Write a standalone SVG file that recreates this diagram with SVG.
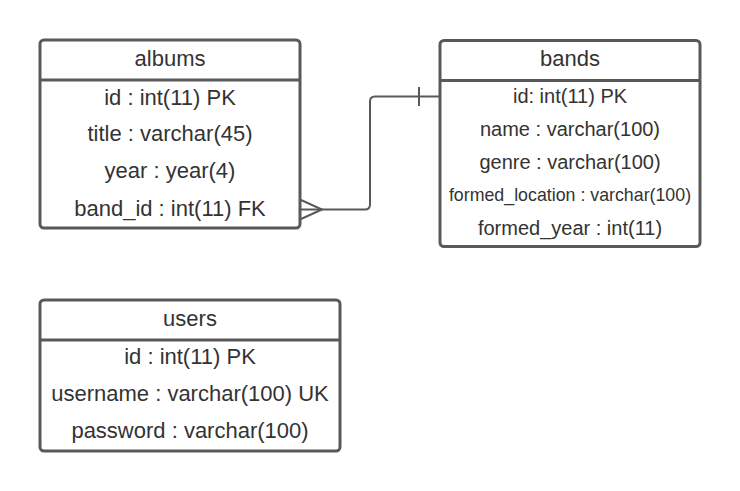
<svg xmlns="http://www.w3.org/2000/svg" width="740" height="491" viewBox="0 0 740 491">
<style>
.box{fill:#fff;stroke:#595959;stroke-width:3}
.sep{stroke:#595959;stroke-width:3}
.t{font-family:"Liberation Sans",Arial,sans-serif;font-size:22px;fill:#333;text-anchor:middle;dominant-baseline:central}
.m{font-size:20px}
.s{font-size:17.8px}
.conn{fill:none;stroke:#595959;stroke-width:2}
</style>
<rect width="740" height="491" fill="#fff"/>
<g id="albums">
<rect class="box" x="40" y="40" width="260" height="188" rx="4"/>
<line class="sep" x1="40" y1="80" x2="300" y2="80"/>
<text class="t" x="170" y="58">albums</text>
<text class="t" x="170" y="97">id : int(11) PK</text>
<text class="t" x="170" y="133">title : varchar(45)</text>
<text class="t" x="170" y="170">year : year(4)</text>
<text class="t" x="170" y="208">band_id : int(11) FK</text>
</g>
<g id="bands">
<rect class="box" x="440" y="40.5" width="260" height="206" rx="4"/>
<line class="sep" x1="440" y1="80.5" x2="700" y2="80.5"/>
<text class="t" x="570" y="58">bands</text>
<text class="t m" x="570" y="96">id: int(11) PK</text>
<text class="t m" x="570" y="129">name : varchar(100)</text>
<text class="t m" x="570" y="162">genre : varchar(100)</text>
<text class="t s" x="570" y="195">formed_location : varchar(100)</text>
<text class="t m" x="570" y="228">formed_year : int(11)</text>
</g>
<g id="users">
<rect class="box" x="40" y="300" width="300" height="151" rx="4"/>
<line class="sep" x1="40" y1="340" x2="340" y2="340"/>
<text class="t" x="190" y="318">users</text>
<text class="t" x="190" y="356">id : int(11) PK</text>
<text class="t" x="190" y="393">username : varchar(100) UK</text>
<text class="t" x="190" y="430">password : varchar(100)</text>
</g>
<g id="connectors">
<path class="conn" d="M301 209.5 H365 Q370 209.5 370 204.5 V101.5 Q370 96.5 375 96.5 H440"/>
<path class="conn" d="M301 200 L322 209.5 L301 219"/>
<line class="conn" x1="419" y1="87" x2="419" y2="106"/>
</g>
</svg>
